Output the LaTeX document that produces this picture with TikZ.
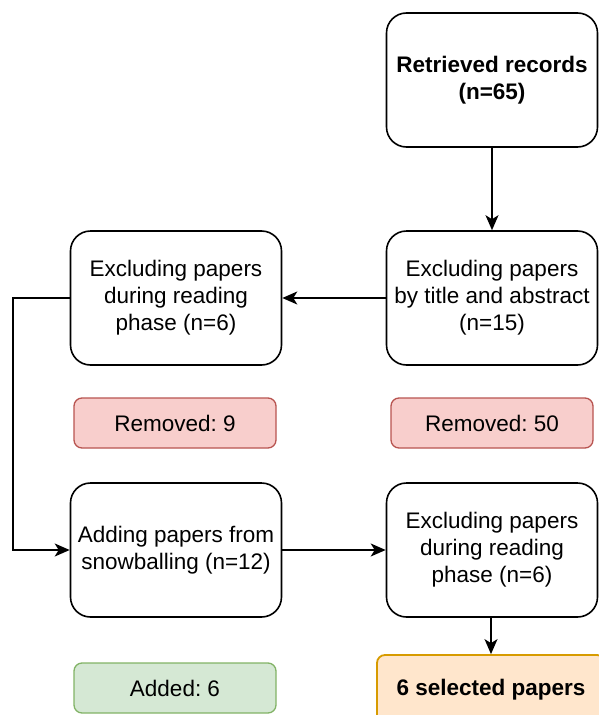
\documentclass[tikz,border=0pt]{standalone}
\usepackage{fontspec}
\setmainfont{Liberation Sans}
\usepackage{tikz}
\usetikzlibrary{shapes,arrows,arrows.meta,positioning}
\frenchspacing

\definecolor{redfill}{HTML}{F8CECC}
\definecolor{redline}{HTML}{B85450}
\definecolor{greenfill}{HTML}{D5E8D4}
\definecolor{greenline}{HTML}{82B366}
\definecolor{orangefill}{HTML}{FFE6CC}
\definecolor{orangeline}{HTML}{D79B00}

\tikzset{
  stage/.style={draw, line width=1.6pt, rounded corners=20pt, minimum width=211pt, minimum height=134pt, align=center, inner sep=2pt},
  tally/.style={draw, line width=1.3pt, rounded corners=8pt, minimum width=202pt, minimum height=50pt, align=center},
  flow/.style={line width=1.6pt, -{Stealth[length=15pt,width=13pt,inset=4pt]}}
}

\begin{document}
\begin{tikzpicture}[x=1pt,y=-1pt,font=\fontsize{22.5}{27}\selectfont]
\useasboundingbox (0,0) rectangle (598,715);
% stages
\node[stage] (rec) at (492,80) {\textbf{Retrieved records}\\\textbf{(n=65)}};
\node[stage] (title) at (492,298) {Excluding papers\\by title and abstract\\(n=15)};
\node[stage] (read1) at (176,298) {Excluding papers\\during reading\\phase (n=6)};
\node[stage] (snow) at (176,550) {Adding papers from\\snowballing (n=12)};
\node[stage] (read2) at (492,550) {Excluding papers\\during reading\\phase (n=6)};
% counts
\node[tally, fill=redfill, draw=redline] (rem9) at (175,423) {Removed: 9};
\node[tally, fill=redfill, draw=redline] (rem50) at (492,423) {Removed: 50};
\node[tally, fill=greenfill, draw=greenline] (added) at (175,688) {Added: 6};
\node[tally, fill=orangefill, draw=orangeline, line width=1.8pt, minimum width=228pt, minimum height=70pt] (sel) at (491,690) {\textbf{6 selected papers}};
% arrows
\draw[flow] (rec) -- (title);
\draw[flow] (title) -- (read1);
\coordinate (bend) at (13,298);
\draw[flow] (read1.west) -- (bend) |- (snow.west);
\draw[flow] (snow) -- (read2);
\draw[flow] (read2.south -| sel.north) -- (sel.north);
\end{tikzpicture}
\end{document}
